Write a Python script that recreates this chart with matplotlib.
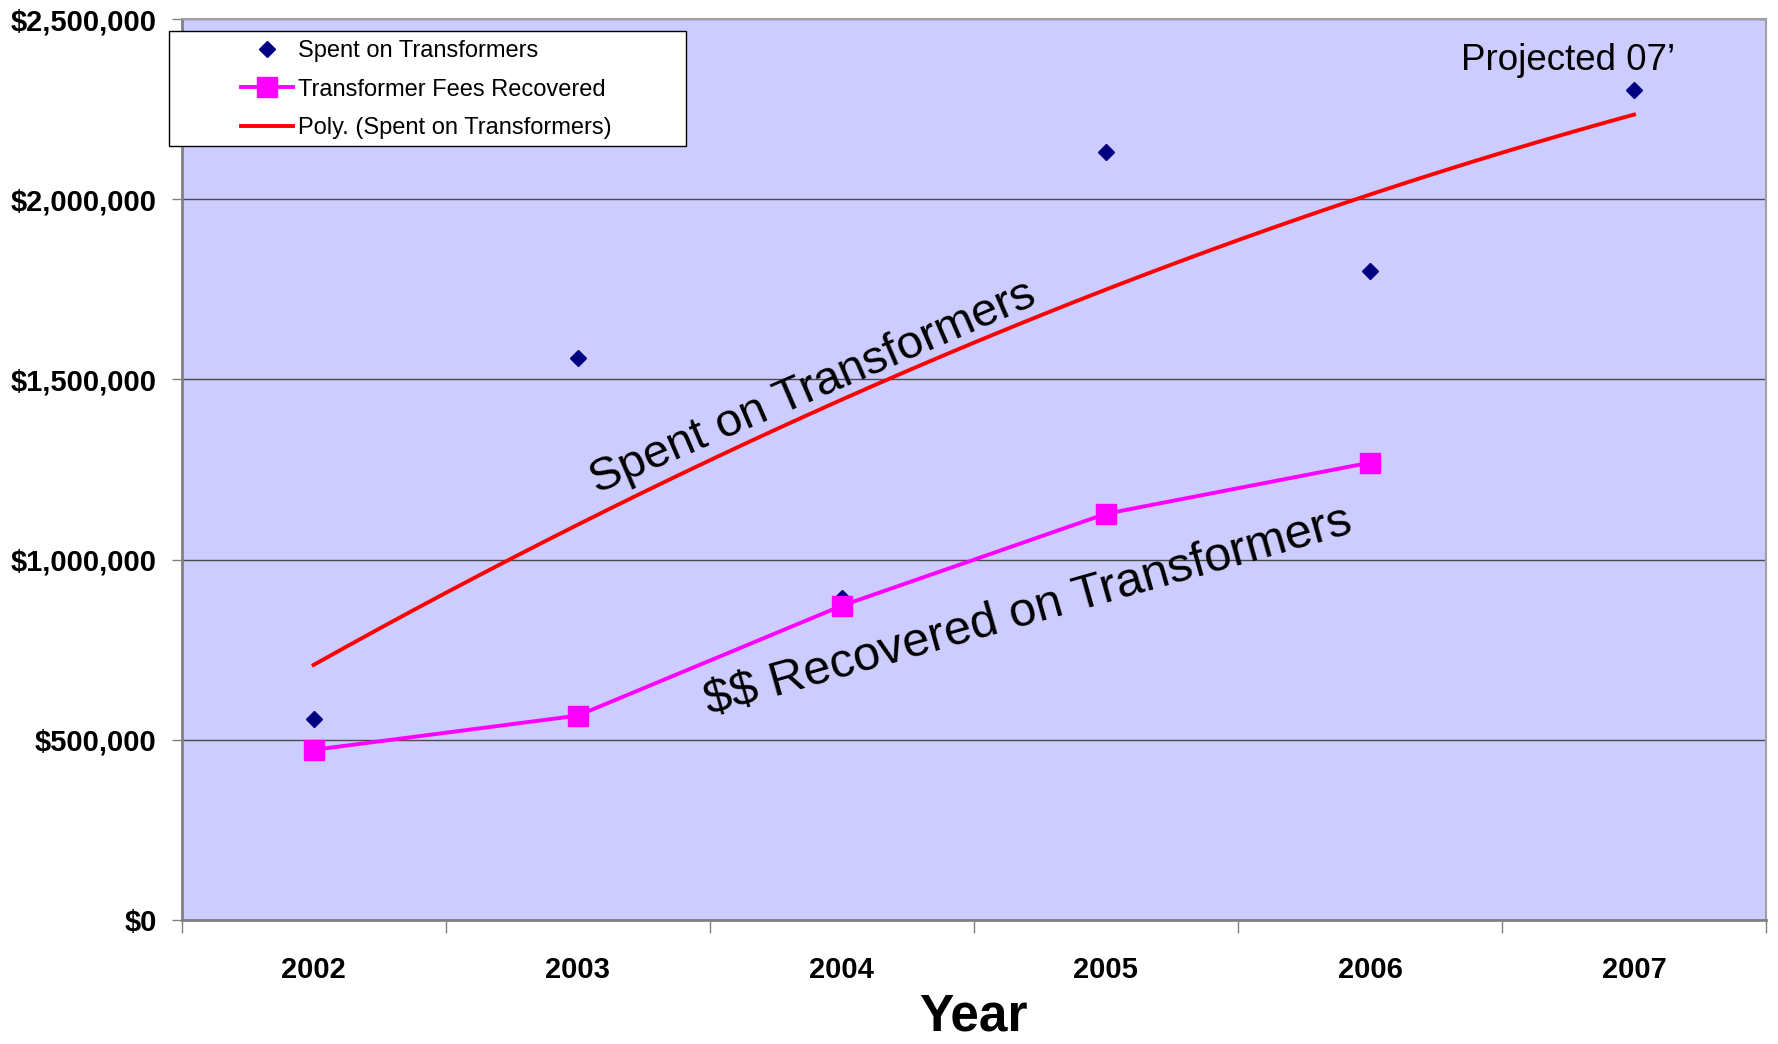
import matplotlib
matplotlib.use("Agg")
import matplotlib.pyplot as plt
import numpy as np
from matplotlib.patches import Rectangle
from matplotlib.ticker import FuncFormatter, MultipleLocator

plt.rcParams["font.family"] = ["Liberation Sans", "DejaVu Sans"]
plt.rcParams["text.parse_math"] = False

# values
years = ["2002", "2003", "2004", "2005", "2006", "2007"]
spent = [557000, 1559000, 894000, 2132000, 1801000, 2302000]
recovered_years = ["2002", "2003", "2004", "2005", "2006"]
recovered = [472000, 567000, 872000, 1127000, 1269000]

BG = "#CCCCFF"
NAVY = "#000080"
MAGENTA = "#FF00FF"
RED = "#FF0000"

fig = plt.figure(figsize=(17.78, 10.44), dpi=100)
ax = fig.add_axes([0.1021, 0.1188, 0.8912, 0.863])
ax.set_facecolor(BG)

x = np.arange(len(years))
xr = np.arange(len(recovered_years))

ax.plot(x, spent, linestyle="none", marker="D", markersize=8, color=NAVY,
        label="Spent on Transformers", zorder=3)
ax.plot(xr, recovered, color=MAGENTA, linewidth=2.8, marker="s", markersize=14,
        label="Transformer Fees Recovered", zorder=4)

# Excel-style 2nd order polynomial trendline
coef = np.polyfit(x, spent, 2)
xs = np.linspace(x[0], x[-1], 200)
ax.plot(xs, np.polyval(coef, xs), color=RED, linewidth=2.8,
        label="Poly. (Spent on Transformers)", zorder=5)

ax.set_xlim(-0.5, len(years) - 0.5)
ax.set_ylim(0, 2500000)
ax.set_xticks(x)
ax.set_xticklabels(years, fontsize=21, fontweight="bold")
ax.set_xticks(np.arange(-0.5, len(years)), minor=True)
ax.tick_params(axis="x", which="major", length=0, pad=26)
ax.tick_params(axis="x", which="minor", length=9, width=1, color="#808080", direction="out")

ax.yaxis.set_major_locator(MultipleLocator(500000))
ax.yaxis.set_major_formatter(FuncFormatter(lambda v, p: f"${v:,.0f}"))
ax.tick_params(axis="y", length=7, width=1, color="#808080", pad=11, labelsize=21)
for lab in ax.get_yticklabels():
    lab.set_fontweight("bold")

ax.grid(axis="y", color="#4a4a4a", linewidth=1)
ax.set_axisbelow(True)
for side in ["left", "bottom"]:
    ax.spines[side].set_color("#808080")
    ax.spines[side].set_linewidth(2)
for side in ["top", "right"]:
    ax.spines[side].set_color("#A0A0A0")
    ax.spines[side].set_linewidth(1.5)

ax.set_xlabel("Year", fontsize=37, fontweight="bold", labelpad=6)

ax.text(1.891, 1478000, "Spent on Transformers", fontsize=34, rotation=23.3,
        ha="center", va="center", rotation_mode="anchor", zorder=6)
ax.text(2.705, 855000, "$$ Recovered on Transformers", fontsize=35, rotation=15.8,
        ha="center", va="center", rotation_mode="anchor", zorder=6)
ax.text(4.75, 2384000, "Projected 07\u2019", fontsize=26.5, ha="center", va="center", zorder=6)

# legend box (Excel puts a wide left margin inside the frame)
fig.patches.append(Rectangle((169 / 1778, 1 - 146 / 1044), (686 - 169) / 1778, (146 - 31) / 1044,
                             transform=fig.transFigure, facecolor="white",
                             edgecolor="black", linewidth=1, zorder=10))
leg = fig.legend(loc="upper left", bbox_to_anchor=(234 / 1778, 1 - 33 / 1044),
                 frameon=False, fontsize=17, handlelength=2.2, handletextpad=0.2,
                 labelspacing=0.7, borderpad=0.3, borderaxespad=0)
leg.set_zorder(11)

fig.savefig("out.png", dpi=100)
